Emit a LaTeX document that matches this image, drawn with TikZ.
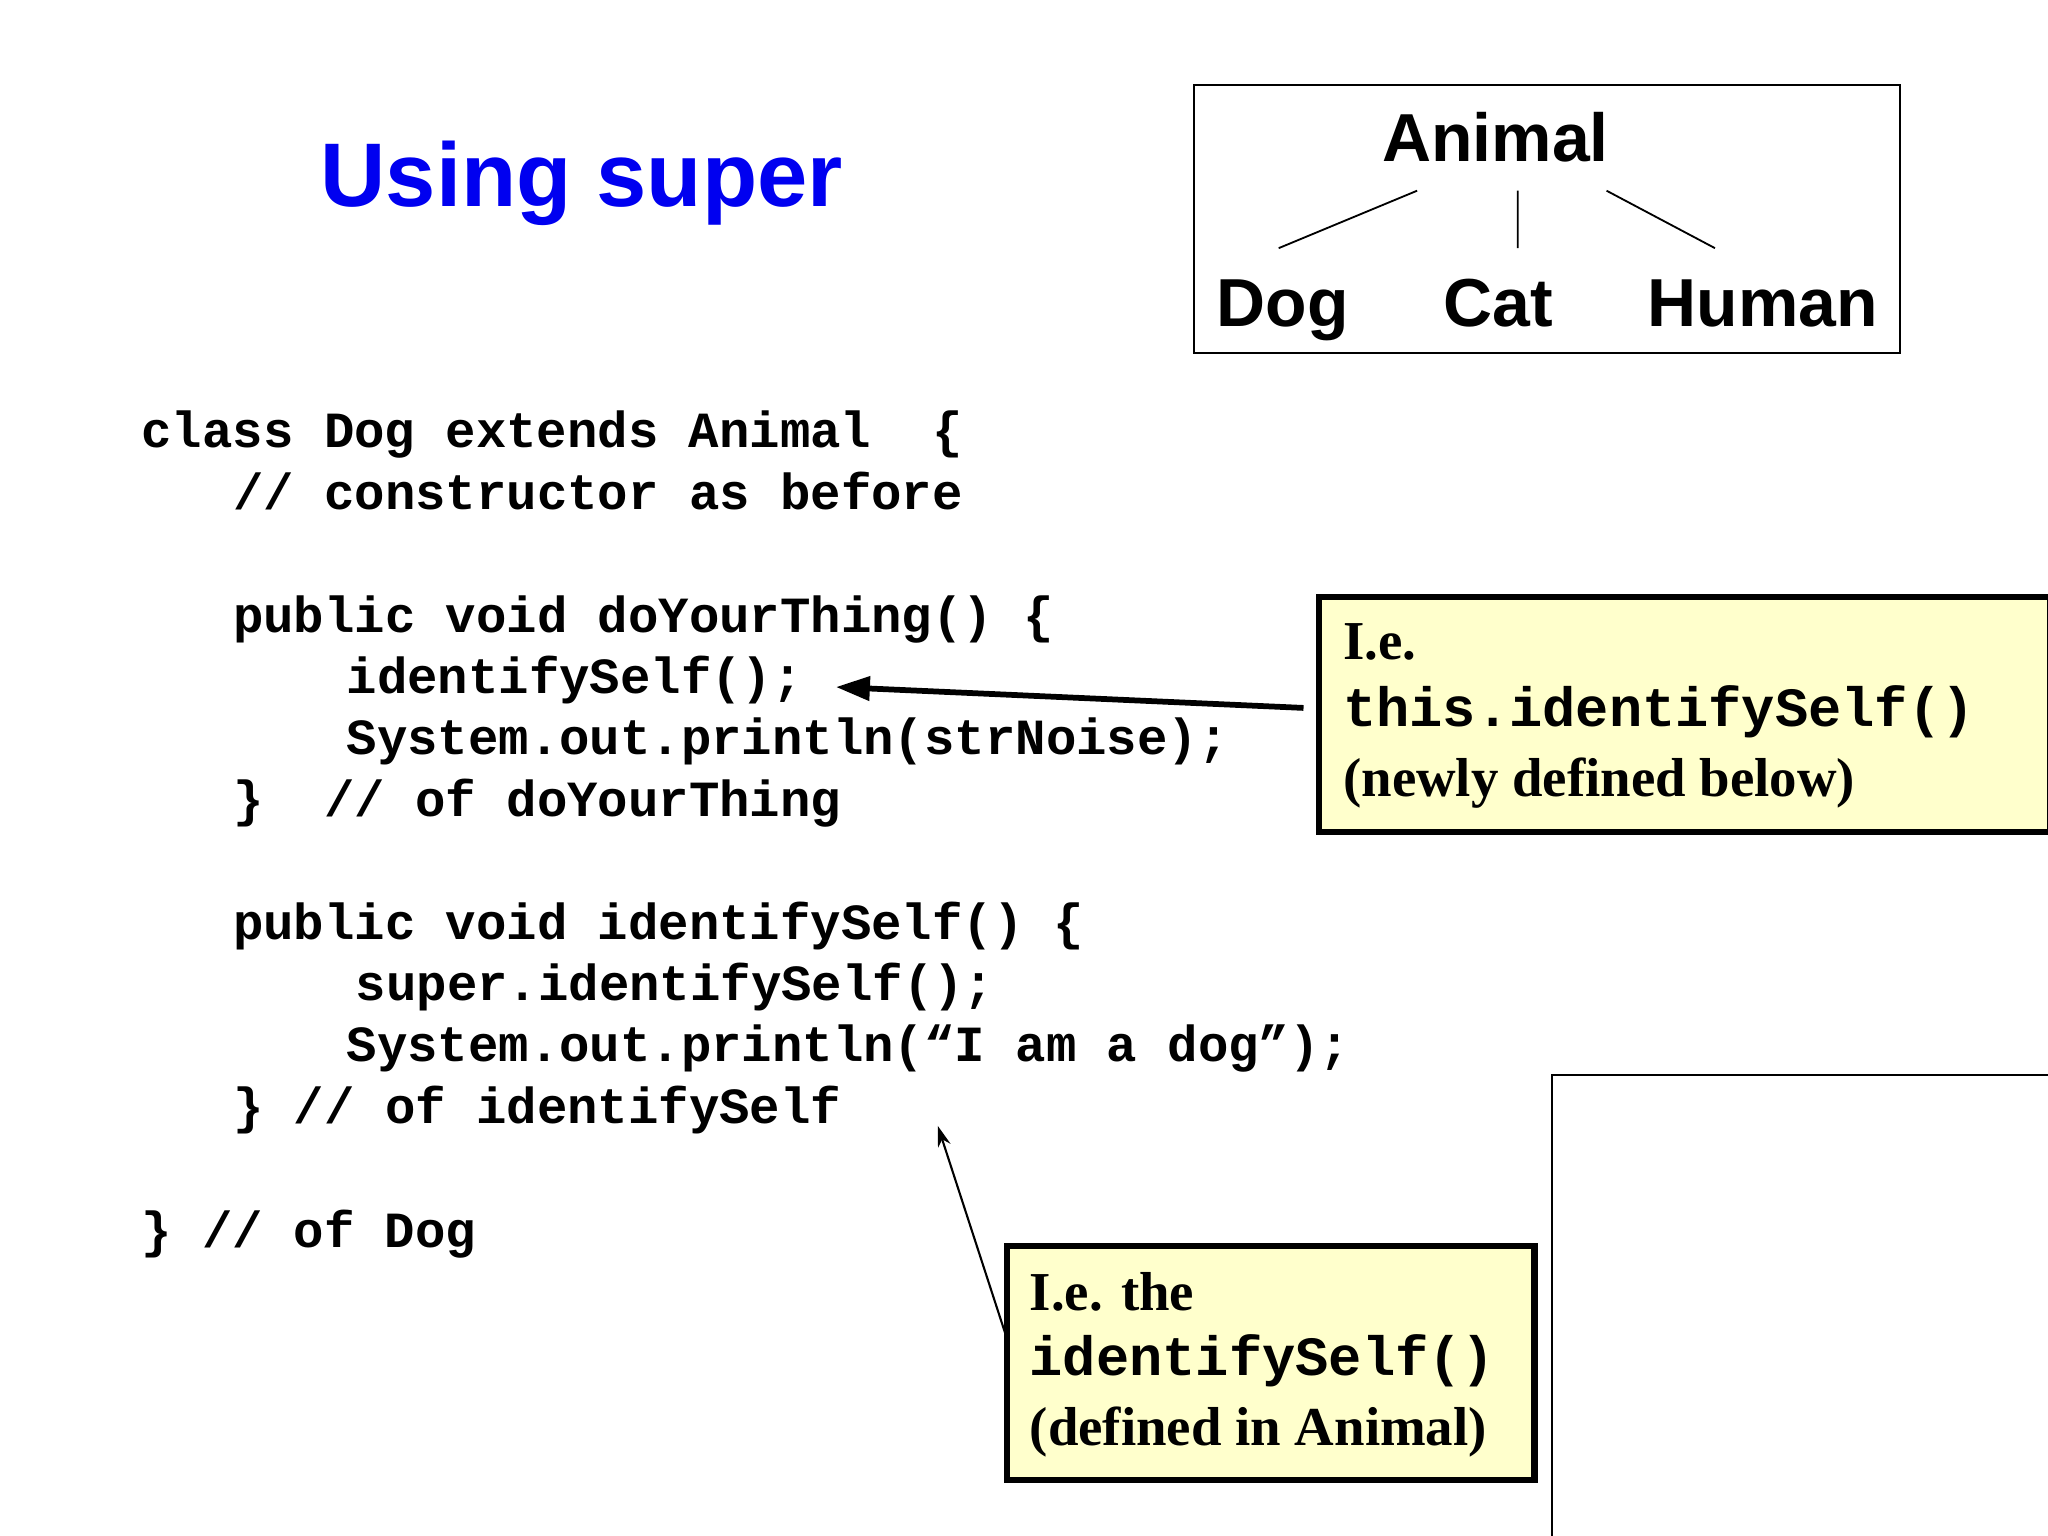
\documentclass[tikz,border=0pt]{standalone}
\usepackage{fontspec}
\setmainfont{Liberation Serif}
\setsansfont{Liberation Sans}
\setmonofont{Liberation Mono}
\usetikzlibrary{arrows.meta}
\begin{document}
\begin{tikzpicture}[x=0.5pt,y=-0.5pt,
  code/.style={anchor=base west,inner sep=0,font=\fontsize{19.4}{23}\selectfont\ttfamily\bfseries},
  ani/.style={anchor=base,inner sep=0,font=\fontsize{26}{30}\selectfont\sffamily\bfseries},
  call/.style={draw=black,line width=2.5pt,fill={rgb,255:red,255;green,255;blue,204}},
  ctext/.style={anchor=base west,inner sep=0,font=\fontsize{21}{25}\selectfont\bfseries},
  ccode/.style={anchor=base west,inner sep=0,font=\fontsize{21.2}{25}\selectfont\ttfamily\bfseries}]
\useasboundingbox (0,0) rectangle (1568,1176);
\fill[white] (0,0) rectangle (1568,1176);
\node[anchor=base west,inner sep=0,text={rgb,255:red,0;green,0;blue,240},font=\fontsize{34.6}{40}\selectfont\sffamily\bfseries] (title) at (245,158) {Using super};
% animal box
\draw[line width=0.8pt] (914,65) rectangle (1455,270);
\node[ani] (animal) at (1145,124) {Animal};
\node[ani,anchor=base west] (dog) at (931,250) {Dog};
\node[ani,anchor=base west] (cat) at (1105,250) {Cat};
\node[ani,anchor=base west] (human) at (1261,250) {Human};
\coordinate (a1) at (1085,146); \coordinate (d1) at (979,190);
\coordinate (a2) at (1162,146); \coordinate (c1) at (1162,190);
\coordinate (a3) at (1230,146); \coordinate (h1) at (1313,190);
\draw[line width=0.7pt] (a1)--(d1) (a2)--(c1) (a3)--(h1);
% code
\node[code] (l1) at (108,343) {class Dog extends Animal\ \ \{};
\node[code] (l2) at (178,390) {// constructor as before};
\node[code] (l3) at (178,484) {public void doYourThing() \{};
\node[code] (l4) at (265,531) {identifySelf();};
\node[code] (l5) at (265,578) {System.out.println(strNoise);};
\node[code] (l6) at (178,625) {\}\ \ // of doYourThing};
\node[code] (l7) at (178,719) {public void identifySelf() \{};
\node[code] (l8) at (272,766) {super.identifySelf();};
\node[code] (l9) at (265,813) {System.out.println(“I am a dog”);};
\node[code] (l10) at (178,860) {\} // of identifySelf};
\node[code] (l11) at (108,955) {\} // of Dog};
% callout 1
\draw[call] (1010,457) rectangle (1570,637);
\node[ctext] (c1a) at (1028,505) {I.e.};
\node[ccode] (c1b) at (1028,556) {this.identifySelf()};
\node[ctext] (c1c) at (1028,610) {(newly defined below)};
\coordinate (s1) at (998,542); \coordinate (e1) at (640,526);
\draw[line width=2.2pt,-{Triangle[length=13pt,width=9pt]}] (s1)--(e1);
% callout 2
\draw[call] (771,954) rectangle (1175,1133);
\node[ctext] (c2a) at (788,1003) {I.e. the};
\node[ccode] (c2b) at (788,1053) {identifySelf()};
\node[ctext] (c2c) at (788,1107) {(defined in Animal)};
\coordinate (s2) at (770,1022); \coordinate (e2) at (718,862);
\draw[line width=0.8pt,-{Stealth[length=8pt,width=5pt]}] (s2)--(e2);
% empty box
\draw[line width=0.8pt] (1188,823) rectangle (1570,1178);
\end{tikzpicture}
\end{document}
